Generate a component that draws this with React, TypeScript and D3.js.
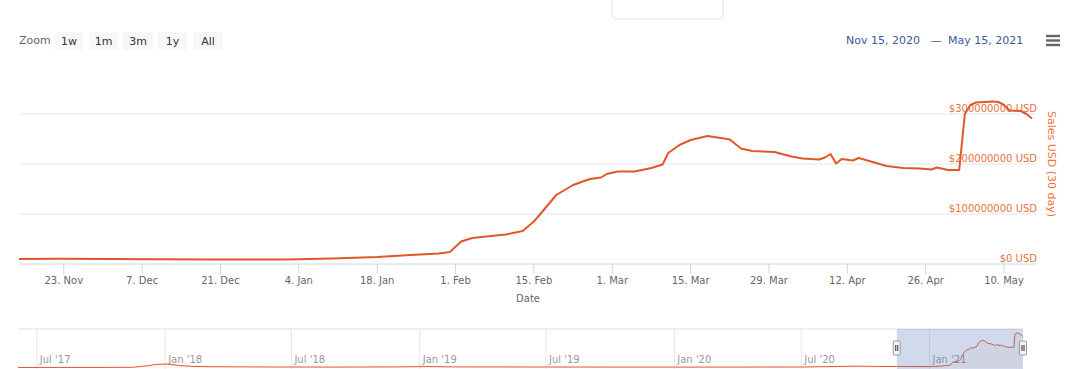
import React from "react";
import * as d3 from "d3";

// ---- Data ----
const salesDates = [
  "2020-11-15","2020-11-22","2020-12-01","2020-12-10","2020-12-20","2021-01-01","2021-01-04",
  "2021-01-10","2021-01-18","2021-01-24","2021-01-29","2021-01-31","2021-02-02","2021-02-04",
  "2021-02-10","2021-02-13","2021-02-15","2021-02-16","2021-02-19","2021-02-22","2021-02-25",
  "2021-02-27","2021-02-28","2021-03-02","2021-03-05","2021-03-08","2021-03-10","2021-03-11",
  "2021-03-13","2021-03-15","2021-03-18","2021-03-21","2021-03-22","2021-03-24","2021-03-26",
  "2021-03-30","2021-04-02","2021-04-04","2021-04-07","2021-04-08","2021-04-09","2021-04-10",
  "2021-04-11","2021-04-13","2021-04-14","2021-04-15","2021-04-19","2021-04-22","2021-04-25",
  "2021-04-27","2021-04-28","2021-04-30","2021-05-02","2021-05-03","2021-05-04","2021-05-05",
  "2021-05-08","2021-05-09","2021-05-10","2021-05-11","2021-05-13","2021-05-14","2021-05-15",
];
// millions of USD (30-day sales)
const salesValuesM = [
  10, 10.5, 10, 9.5, 9, 9, 9.5,
  11, 14, 18, 21, 24, 45, 52,
  59, 66, 85, 98, 138, 158, 170,
  173, 180, 185, 185, 192, 199, 222,
  238, 248, 256, 251, 249, 231, 226,
  224, 215, 211, 209, 213, 220, 201,
  210, 207, 212, 209, 196, 192, 191,
  189, 193, 188, 188, 300, 318, 323,
  325, 324, 318, 307, 306, 300, 291,
];

// navigator history before the selected range
const historyDates = [
  "2017-06-04","2017-08-01","2017-10-01","2017-11-15","2017-12-05","2017-12-20","2018-01-05",
  "2018-01-20","2018-02-10","2018-03-15","2018-06-01","2018-09-01","2018-12-01","2019-01-10",
  "2019-02-15","2019-06-01","2019-10-01","2020-01-01","2020-04-01","2020-07-01","2020-08-20",
  "2020-09-20","2020-10-20",
];
const historyValuesM = [
  0.2, 0.5, 0.8, 2, 15, 30, 33,
  20, 10, 7, 5, 4, 6, 9,
  6, 5, 4, 4, 4, 5, 9,
  13, 10,
];

const yTicksM = [0, 100, 200, 300];
const xTickDates = [
  "2020-11-23","2020-12-07","2020-12-21","2021-01-04","2021-01-18","2021-02-01","2021-02-15",
  "2021-03-01","2021-03-15","2021-03-29","2021-04-12","2021-04-26","2021-05-10",
];
const navTickDates = [
  "2017-07-01","2018-01-01","2018-07-01","2019-01-01","2019-07-01","2020-01-01","2020-07-01","2021-01-01",
];
const zoomButtons = ["1w", "1m", "3m", "1y", "All"];
const rangeStart = "2020-11-15";
const rangeEnd = "2021-05-15";
const navStart = "2017-06-04";

const FONT = "'DejaVu Sans', Verdana, sans-serif";
const LINE = "#e0582a";
const ORANGE = "#e8733e";

export default function App() {
  const W = 1080, H = 369;
  const parse = (s: string) => new Date(s + "T00:00:00Z");
  const main = salesDates.map((d, i) => ({ date: parse(d), value: salesValuesM[i] * 1e6 }));
  const nav = historyDates
    .map((d, i) => ({ date: parse(d), value: historyValuesM[i] * 1e6 }))
    .concat(main);

  const x = d3.scaleUtc().domain([parse(rangeStart), parse(rangeEnd)]).range([19, 1032]);
  const y = d3.scaleLinear().domain([0, 400e6]).range([264, 64]);
  const plotL = 20, plotR = 1036;

  const line = d3.line<{ date: Date; value: number }>()
    .x(d => x(d.date)).y(d => y(d.value));

  const nx = d3.scaleUtc().domain([parse(navStart), parse(rangeEnd)]).range([18, 1023]);
  const ny = d3.scaleLinear().domain([0, d3.max(nav, d => d.value) as number]).range([367.5, 333]);
  const navLine = d3.line<{ date: Date; value: number }>().x(d => nx(d.date)).y(d => ny(d.value));
  const navArea = d3.area<{ date: Date; value: number }>().x(d => nx(d.date)).y0(368).y1(d => ny(d.value));

  const fmtX = d3.utcFormat("%-d. %b");
  const fmtNav = d3.utcFormat("%b '%y");
  const fmtRange = d3.utcFormat("%b %-d, %Y");

  const maskL = nx(parse(rangeStart));
  const maskR = nx(parse(rangeEnd));

  const btnX = [55, 89, 123, 158, 193];
  const btnW = [28, 29, 30, 29, 30];

  return (
    <svg width={W} height={H} style={{ position: "absolute", left: 0, top: 0, background: "#fff" }}
      fontFamily={FONT}>
      <rect x={0} y={0} width={W} height={H} fill="#fff" />
      {/* faint box at top */}
      <rect x={612} y={-12} width={111} height={31} rx={4} fill="#fff" stroke="#e2e2e2" />

      {/* Range selector */}
      <text x={19} y={44} fontSize={11} fill="#666">Zoom</text>
      {zoomButtons.map((b, i) => (
        <g key={b}>
          <rect x={btnX[i]} y={32} width={btnW[i]} height={18} rx={2} fill="#f7f7f7" />
          <text x={btnX[i] + btnW[i] / 2} y={44.5} fontSize={11} fill="#333" textAnchor="middle">{b}</text>
        </g>
      ))}
      <text x={920} y={44} fontSize={11} fill="#3d5a96" textAnchor="end">{fmtRange(parse(rangeStart))}</text>
      <text x={936} y={44} fontSize={11} fill="#3d5a96" textAnchor="middle">—</text>
      <text x={948} y={44} fontSize={11} fill="#3d5a96">{fmtRange(parse(rangeEnd))}</text>
      {[36, 40.5, 45].map(v => (
        <rect key={v} x={1046} y={v - 1.2} width={14} height={2.4} fill="#666" />
      ))}

      {/* gridlines */}
      {yTicksM.map(t => (
        <line key={t} x1={plotL} x2={plotR} y1={y(t * 1e6)} y2={y(t * 1e6)}
          stroke={t === 0 ? "#ccd6eb" : "#e6e6e6"} strokeWidth={1} />
      ))}
      {/* y labels */}
      {yTicksM.map(t => (
        <text key={"l" + t} x={1037} y={y(t * 1e6) - 2} fontSize={10} fill={ORANGE} textAnchor="end">
          {`$${t * 1000000} USD`}
        </text>
      ))}
      <text transform={`translate(1048,164) rotate(90)`} fontSize={11} fill={ORANGE} textAnchor="middle">
        Sales USD (30 day)
      </text>

      {/* x ticks */}
      {xTickDates.map(d => {
        const xx = x(parse(d));
        return (
          <g key={d}>
            <line x1={xx} x2={xx} y1={264} y2={274} stroke="#ccd6eb" />
            <text x={xx} y={283.5} fontSize={10} fill="#666" textAnchor="middle">{fmtX(parse(d))}</text>
          </g>
        );
      })}
      <text x={528} y={302} fontSize={10} fill="#666" textAnchor="middle">Date</text>

      {/* series */}
      <path d={line(main) || ""} fill="none" stroke={LINE} strokeWidth={2} strokeLinejoin="round" />

      {/* Navigator */}
      <line x1={18} x2={1023} y1={329} y2={329} stroke="#dcdcdc" />
      {navTickDates.map(d => {
        const xx = nx(parse(d));
        return (
          <g key={d}>
            <line x1={xx} x2={xx} y1={329} y2={369} stroke="#e6e6e6" />
            <text x={xx + 3} y={363} fontSize={10} fill="#999">{fmtNav(parse(d))}</text>
          </g>
        );
      })}
      <path d={navArea(nav) || ""} fill="rgba(224,88,42,0.06)" />
      <path d={navLine(nav) || ""} fill="none" stroke={LINE} strokeWidth={1} />
      <rect x={maskL} y={329} width={maskR - maskL} height={40} fill="rgba(102,133,194,0.3)" />
      {[maskL, maskR].map((hx, i) => (
        <g key={i}>
          <rect x={hx - 3.5} y={341} width={7} height={14} rx={1} fill="#f2f2f2" stroke="#999" />
          <line x1={hx - 1} x2={hx - 1} y1={345} y2={351} stroke="#333" />
          <line x1={hx + 1} x2={hx + 1} y1={345} y2={351} stroke="#333" />
        </g>
      ))}
    </svg>
  );
}
